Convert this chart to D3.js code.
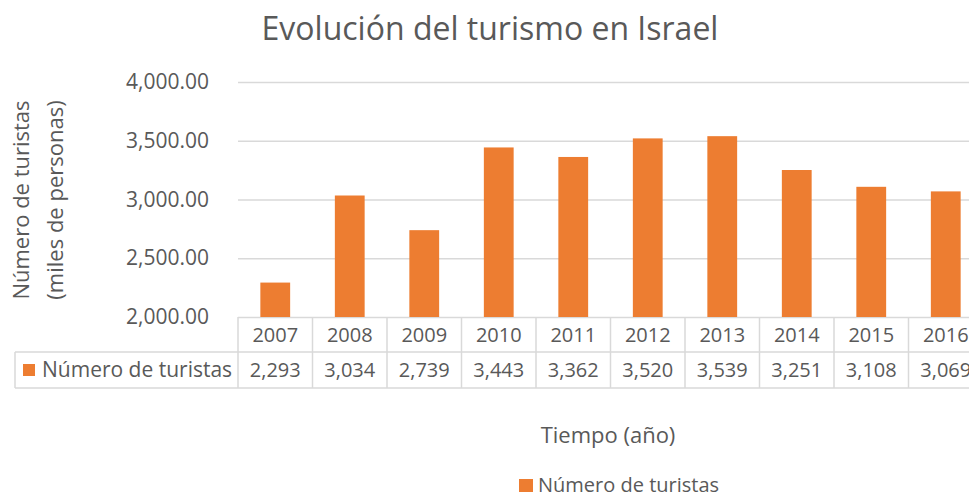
<!DOCTYPE html>
<head>
<meta charset='utf-8'>
<title>Evolución del turismo en Israel</title>
<script src='https://d3js.org/d3.v7.min.js'></script>
<style>
  html, body { margin:0; padding:0; background:#fff; }
  svg text { font-family:'Open Sans', sans-serif; fill:#595959; }
</style>
</head>
<body>
<svg id='chart' width='969' height='496'></svg>
<script>
// data
var years = ['2007','2008','2009','2010','2011','2012','2013','2014','2015','2016'];
var tourists = [2293, 3034, 2739, 3443, 3362, 3520, 3539, 3251, 3108, 3069];
var yTicks = [2000, 2500, 3000, 3500, 4000];
var seriesName = 'Número de turistas';

var svg = d3.select('#chart');
var plotLeft = 238, plotTop = 82, plotBottom = 317, step = 74.5;
var gridCol = '#d9d9d9', orange = '#ed7d31';

var x = d3.scaleBand().domain(years).range([plotLeft, plotLeft + step * years.length]).paddingInner(0.6).paddingOuter(0.3);
var y = d3.scaleLinear().domain([2000, 4000]).range([plotBottom, plotTop]);
var xCell = d3.scaleBand().domain(years).range([plotLeft, plotLeft + step * years.length]);

// title
svg.append('text').attr('x', 490).attr('y', 40).attr('text-anchor', 'middle')
  .style('font-size', '32px').text('Evolución del turismo en Israel');

// gridlines
svg.append('g').selectAll('line').data(yTicks).enter().append('line')
  .attr('x1', plotLeft).attr('x2', 969)
  .attr('y1', function(d){ return y(d) + 0.5; }).attr('y2', function(d){ return y(d) + 0.5; })
  .attr('stroke', gridCol).attr('stroke-width', 1.3);

// y tick labels
svg.append('g').selectAll('text').data(yTicks).enter().append('text')
  .attr('x', 209).attr('y', function(d){ return y(d) + 7; })
  .attr('text-anchor', 'end').style('font-size', '21px')
  .text(function(d){ return d3.format(',.2f')(d); });

// bars
svg.append('g').selectAll('rect').data(tourists).enter().append('rect')
  .attr('x', function(d, i){ return x(years[i]); })
  .attr('width', x.bandwidth())
  .attr('y', function(d){ return y(d); })
  .attr('height', function(d){ return plotBottom - y(d); })
  .attr('fill', orange);

// data table
var row1 = 352, row2 = 388;
var tbl = svg.append('g').attr('stroke', gridCol).attr('stroke-width', 1.5);
tbl.append('line').attr('x1', 15).attr('x2', 969).attr('y1', row1).attr('y2', row1);
tbl.append('line').attr('x1', 15).attr('x2', 969).attr('y1', row2).attr('y2', row2);
tbl.append('line').attr('x1', 15).attr('x2', 15).attr('y1', row1).attr('y2', row2);
tbl.selectAll('.v').data(years).enter().append('line')
  .attr('x1', function(d){ return xCell(d); }).attr('x2', function(d){ return xCell(d); })
  .attr('y1', plotBottom).attr('y2', row2);

svg.append('g').selectAll('text').data(years).enter().append('text')
  .attr('x', function(d){ return xCell(d) + step / 2; }).attr('y', plotBottom + 25)
  .attr('text-anchor', 'middle').style('font-size', '20px').text(function(d){ return d; });

svg.append('g').selectAll('text').data(tourists).enter().append('text')
  .attr('x', function(d, i){ return xCell(years[i]) + step / 2; }).attr('y', row1 + 25)
  .attr('text-anchor', 'middle').style('font-size', '20px').text(function(d){ return d3.format(',')(d); });

svg.append('rect').attr('x', 23).attr('y', row1 + 12).attr('width', 12).attr('height', 12).attr('fill', orange);
svg.append('text').attr('x', 42).attr('y', row1 + 25).style('font-size', '21px').text(seriesName);

// axis titles
svg.append('text').attr('transform', 'translate(29,200) rotate(-90)').attr('text-anchor', 'middle')
  .style('font-size', '22px').text('Número de turistas');
svg.append('text').attr('transform', 'translate(63,200) rotate(-90)').attr('text-anchor', 'middle')
  .style('font-size', '22px').text('(miles de personas)');
svg.append('text').attr('x', 608).attr('y', 443).attr('text-anchor', 'middle')
  .style('font-size', '22px').text('Tiempo (año)');

// legend
svg.append('rect').attr('x', 519).attr('y', 479).attr('width', 14).attr('height', 13).attr('fill', orange);
svg.append('text').attr('x', 538).attr('y', 492).style('font-size', '20px').text(seriesName);
</script>
</body>
